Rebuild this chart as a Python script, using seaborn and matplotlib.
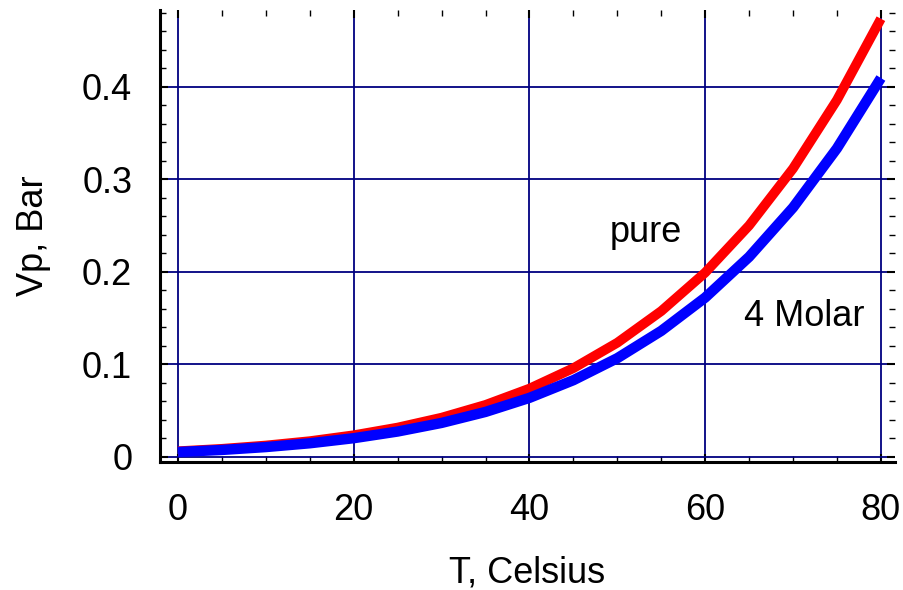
import pandas as pd
import seaborn as sns
import matplotlib
matplotlib.use("Agg")
import matplotlib.pyplot as plt
from matplotlib.ticker import MultipleLocator

# values
temps = [0, 5, 10, 15, 20, 25, 30, 35, 40, 45, 50, 55, 60, 65, 70, 75, 80]
vp_pure = [0.0061, 0.0087, 0.0123, 0.0170, 0.0234, 0.0317, 0.0424, 0.0562, 0.0738,
           0.0959, 0.1234, 0.1576, 0.1992, 0.2501, 0.3117, 0.3858, 0.4736]
vp_4molar = [0.0053, 0.0075, 0.0106, 0.0147, 0.0202, 0.0274, 0.0367, 0.0486, 0.0638,
             0.0829, 0.1067, 0.1362, 0.1722, 0.2162, 0.2695, 0.3335, 0.4095]
x_ticks = [0, 20, 40, 60, 80]
y_ticks = [0, 0.1, 0.2, 0.3, 0.4]
y_tick_labels = ["0", "0.1", "0.2", "0.3", "0.4"]

df = pd.DataFrame({"T": temps, "pure": vp_pure, "4 Molar": vp_4molar})

sns.set_style("ticks")
plt.rcParams["font.family"] = ["Liberation Sans", "DejaVu Sans"]
plt.rcParams["text.color"] = "black"
plt.rcParams["axes.labelcolor"] = "black"

fig = plt.figure(figsize=(9.04, 5.9), dpi=100)
ax = fig.add_axes([0.177, 0.217, 0.813, 0.766])

sns.lineplot(data=df, x="T", y="pure", color="#ff0000", linewidth=7, ax=ax, zorder=3)
sns.lineplot(data=df, x="T", y="4 Molar", color="#0000ff", linewidth=7.5, ax=ax, zorder=4)
for ln in ax.lines:
    ln.set_solid_capstyle("butt")

ax.set_xlim(-2.05, 81.6)
ax.set_ylim(-0.0055, 0.483)
ax.set_xticks(x_ticks)
ax.set_yticks(y_ticks)
ax.set_yticklabels(y_tick_labels)
ax.xaxis.set_minor_locator(MultipleLocator(5))
ax.yaxis.set_minor_locator(MultipleLocator(0.02))

ax.grid(True, which="major", color="#000080", linewidth=1.3)
ax.set_axisbelow(True)

for s in ["top", "right"]:
    ax.spines[s].set_visible(False)
for s in ["left", "bottom"]:
    ax.spines[s].set_linewidth(2.2)
    ax.spines[s].set_color("black")

ax.tick_params(which="both", direction="in", top=True, right=True, colors="black")
ax.tick_params(which="major", length=6, width=1.5, labelsize=26, pad=20)
ax.tick_params(which="minor", length=4, width=1)
ax.tick_params(axis="x", which="major", pad=22)

ax.set_xlabel("T, Celsius", fontsize=26, labelpad=20)
ax.set_ylabel("Vp, Bar", fontsize=26, labelpad=22)

ax.text(53.2, 0.242, "pure", fontsize=26, ha="center", va="center")
ax.text(71.3, 0.152, "4 Molar", fontsize=26, ha="center", va="center")

plt.savefig("out.png", dpi=100)
